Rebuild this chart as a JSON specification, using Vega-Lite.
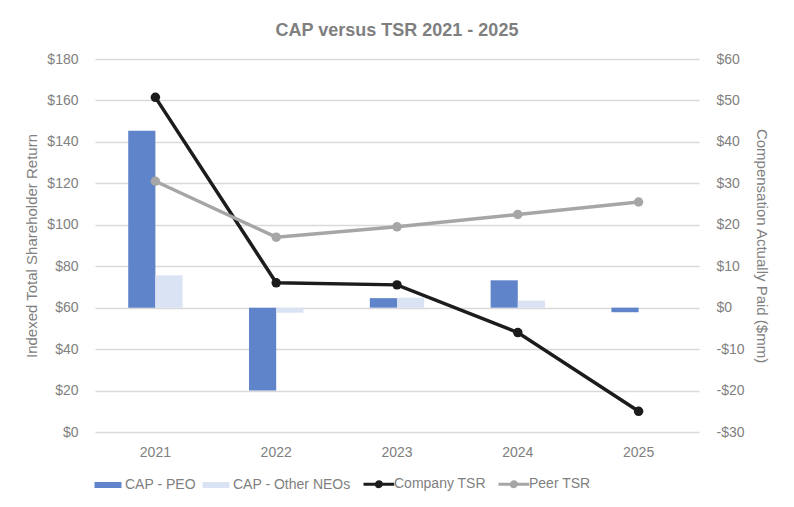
{
  "$schema": "https://vega.github.io/schema/vega-lite/v6.json",
  "width": 794,
  "height": 507,
  "autosize": {"type": "fit", "contains": "padding"},
  "padding": {"left": 24, "right": 25, "top": 22, "bottom": 14},
  "background": "white",
  "config": {
    "font": "Liberation Sans",
    "view": {"stroke": null}
  },
  "title": {
    "text": "CAP versus TSR 2021 - 2025",
    "fontSize": 18,
    "fontWeight": "bold",
    "color": "#7f7f7f",
    "font": "Liberation Sans",
    "offset": 12
  },
  "data": {
    "values": [
      {"year": "2021", "series": "CAP - PEO", "kind": "CAP", "value": 42.7},
      {"year": "2022", "series": "CAP - PEO", "kind": "CAP", "value": -20},
      {"year": "2023", "series": "CAP - PEO", "kind": "CAP", "value": 2.3},
      {"year": "2024", "series": "CAP - PEO", "kind": "CAP", "value": 6.6},
      {"year": "2025", "series": "CAP - PEO", "kind": "CAP", "value": -1.1},
      {"year": "2021", "series": "CAP - Other NEOs", "kind": "CAP", "value": 7.8},
      {"year": "2022", "series": "CAP - Other NEOs", "kind": "CAP", "value": -1.2},
      {"year": "2023", "series": "CAP - Other NEOs", "kind": "CAP", "value": 2.4},
      {"year": "2024", "series": "CAP - Other NEOs", "kind": "CAP", "value": 1.7},
      {"year": "2025", "series": "CAP - Other NEOs", "kind": "CAP", "value": 0},
      {"year": "2021", "series": "Company TSR", "kind": "TSR", "value": 161.5},
      {"year": "2022", "series": "Company TSR", "kind": "TSR", "value": 72},
      {"year": "2023", "series": "Company TSR", "kind": "TSR", "value": 71},
      {"year": "2024", "series": "Company TSR", "kind": "TSR", "value": 48},
      {"year": "2025", "series": "Company TSR", "kind": "TSR", "value": 10},
      {"year": "2021", "series": "Peer TSR", "kind": "TSR", "value": 121},
      {"year": "2022", "series": "Peer TSR", "kind": "TSR", "value": 94},
      {"year": "2023", "series": "Peer TSR", "kind": "TSR", "value": 99},
      {"year": "2024", "series": "Peer TSR", "kind": "TSR", "value": 105},
      {"year": "2025", "series": "Peer TSR", "kind": "TSR", "value": 111}
    ]
  },
  "encoding": {
    "x": {
      "field": "year",
      "type": "nominal",
      "title": null,
      "scale": {"paddingInner": 0.55, "paddingOuter": 0.275},
      "axis": {
        "labelAngle": 0,
        "domain": false,
        "ticks": false,
        "labelFontSize": 14,
        "labelColor": "#808080",
        "labelPadding": 13
      }
    },
    "color": {
      "field": "series",
      "type": "nominal",
      "title": null,
      "scale": {
        "domain": ["CAP - PEO", "CAP - Other NEOs", "Company TSR", "Peer TSR"],
        "range": ["#5f84c9", "#dae3f3", "#1c1c1c", "#a6a6a6"]
      },
      "legend": {
        "orient": "bottom",
        "direction": "horizontal",
        "labelFontSize": 14,
        "labelColor": "#808080",
        "columnPadding": 6,
        "symbolSize": 225,
        "labelOffset": 16,
        "offset": 18,
        "encode": {
          "symbols": {
            "update": {
              "shape": {"signal": "(datum.value == 'Company TSR' || datum.value == 'Peer TSR') ? 'M-1,0H3.1M0.72,0A0.33,0.33 0 1,1 1.38,0A0.33,0.33 0 1,1 0.72,0' : 'M-1,-0.4H2.6V0.4H-1Z'"},
              "fill": {"scale": "color", "field": "value"},
              "stroke": {"scale": "color", "field": "value"},
              "strokeWidth": {"signal": "(datum.value == 'Company TSR' || datum.value == 'Peer TSR') ? 3 : 0"},
              "opacity": {"value": 1}
            }
          }
        }
      }
    }
  },
  "layer": [
    {
      "transform": [{"filter": "datum.kind == 'CAP'"}],
      "mark": {"type": "bar"},
      "encoding": {
        "xOffset": {"field": "series", "type": "nominal", "sort": ["CAP - PEO", "CAP - Other NEOs"]},
        "y": {
          "field": "value",
          "type": "quantitative",
          "title": "Compensation Actually Paid ($mm)",
          "scale": {"domain": [-30, 60], "nice": false, "zero": false},
          "axis": {
            "orient": "right",
            "values": [-30, -20, -10, 0, 10, 20, 30, 40, 50, 60],
            "labelExpr": "(datum.value < 0 ? '-' : '') + '$' + abs(datum.value)",
            "grid": false,
            "domain": false,
            "ticks": false,
            "labelFontSize": 14,
            "labelColor": "#808080",
            "labelPadding": 17,
            "titleFontSize": 15,
            "titleFontWeight": "normal",
            "titleColor": "#808080",
            "titlePadding": 9
          }
        }
      }
    },
    {
      "transform": [{"filter": "datum.kind == 'TSR'"}],
      "mark": {"type": "line", "strokeWidth": 3.5, "point": {"filled": true, "size": 90, "opacity": 1}},
      "encoding": {
        "y": {
          "field": "value",
          "type": "quantitative",
          "title": "Indexed Total Shareholder Return",
          "scale": {"domain": [0, 180], "nice": false},
          "axis": {
            "orient": "left",
            "values": [0, 20, 40, 60, 80, 100, 120, 140, 160, 180],
            "labelExpr": "'$' + datum.value",
            "grid": true,
            "gridColor": "#d9d9d9",
            "gridWidth": 1.5,
            "domain": false,
            "ticks": false,
            "labelFontSize": 14,
            "labelColor": "#808080",
            "labelPadding": 17,
            "titleFontSize": 15,
            "titleFontWeight": "normal",
            "titleColor": "#808080",
            "titlePadding": 7
          }
        }
      }
    }
  ],
  "resolve": {"scale": {"y": "independent"}}
}
